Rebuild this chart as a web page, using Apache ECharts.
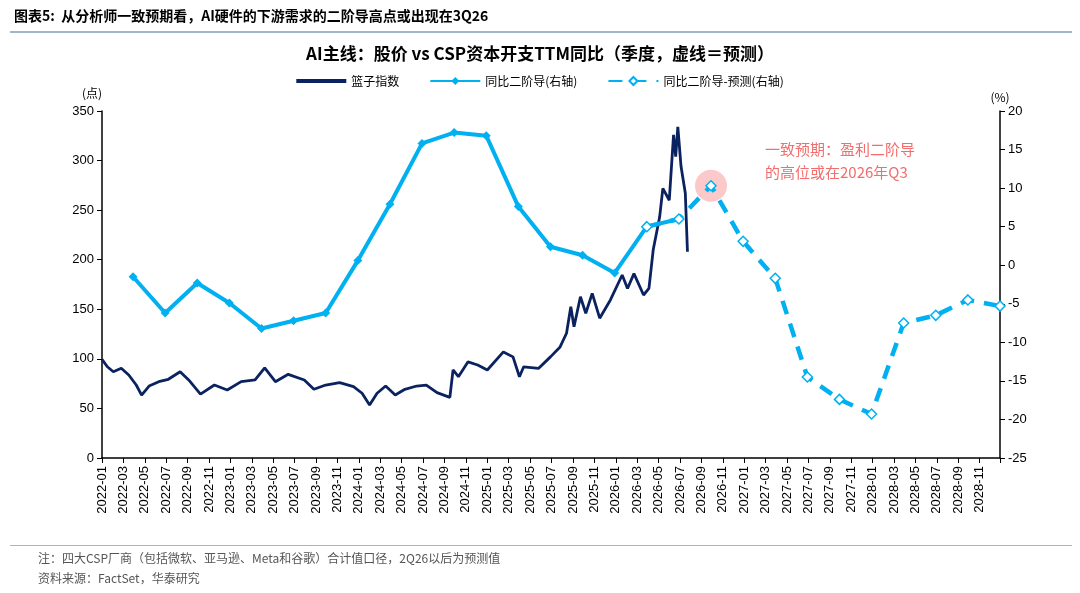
<!DOCTYPE html>
<html>
<head>
<meta charset="utf-8">
<script src="https://cdn.jsdelivr.net/npm/echarts@6/dist/echarts.min.js"></script>
<style>
  html, body { margin: 0; padding: 0; background: #fff; }
  #main { width: 1080px; height: 593px; }
</style>
</head>
<body>
<div id="main"></div>
<script>
// month index 0 = 2022-01
var months = [];
for (var y = 2022; y <= 2028; y++) {
    for (var m = 1; m <= 12; m++) {
        months.push(y + '-' + (m < 10 ? '0' + m : m));
    }
}

// 篮子指数: [month index, value]
var basket = [
    [0, 99.5], [0.5, 92], [1.06, 87], [1.8, 90.5], [2.5, 83.7], [3.2, 73.6], [3.7, 63.5], [4.4, 72.6],
    [5.3, 77], [6.2, 79.4], [7.3, 87], [8.1, 78.7], [9.2, 64.5], [10.5, 73.6], [11.7, 68.6],
    [13.0, 77], [14.3, 78.7], [15.2, 91], [16.2, 77], [17.4, 84.4], [18.9, 78.7], [19.8, 69.3],
    [20.9, 73.6], [22.2, 76], [23.5, 72], [24.3, 65.3], [25.0, 53.5], [25.7, 65.3], [26.5, 72.6],
    [27.4, 63.5], [28.3, 69.3], [29.4, 72.6], [30.3, 73.6], [31.3, 65.9], [32.5, 61.2], [32.8, 88.8],
    [33.3, 82], [34.2, 97], [35.1, 93.8], [36.0, 88.8], [37.5, 107], [38.4, 102], [39.0, 82],
    [39.4, 92], [40.8, 90.5], [41.9, 102], [42.8, 112], [43.4, 125.8], [43.8, 152.6], [44.1, 132.4],
    [44.7, 162.7], [45.2, 146], [45.8, 166], [46.5, 141], [47.5, 159.4], [48.6, 184.6], [49.1, 171],
    [49.7, 186], [50.6, 164.4], [51.1, 171], [51.5, 210], [52.1, 243], [52.4, 272], [53.0, 260],
    [53.4, 326], [53.6, 304], [53.8, 334], [54.1, 294], [54.5, 267], [54.6, 237], [54.7, 208]
];

// 同比二阶导 (右轴), quarterly
var actual = [
    [2.9, -1.5], [5.9, -6.2], [8.9, -2.3], [11.9, -4.9], [14.9, -8.2], [17.9, -7.2],
    [20.9, -6.2], [23.9, 0.6], [26.9, 7.9], [29.9, 15.8], [32.9, 17.2], [35.9, 16.8],
    [38.9, 7.6], [41.9, 2.4], [44.9, 1.3], [47.9, -1.0], [50.9, 5.0], [53.9, 6.0]
];

// 同比二阶导-预测 (右轴)
var forecast = [
    [50.9, 5.0], [53.9, 6.0], [56.9, 10.3], [59.9, 3.1], [62.9, -1.7], [65.9, -14.5],
    [68.9, -17.4], [71.9, -19.3], [74.9, -7.5], [77.9, -6.5], [80.9, -4.5], [83.9, -5.3]
];

// highlighted point (2026年Q3)
var highlight = [[56.9, 10.3]];

var axisFont = { fontFamily: 'Arial, Liberation Sans', fontSize: 13, color: '#000' };
var cjk = 'Noto Sans CJK SC';

var chart = echarts.init(document.getElementById('main'));
chart.setOption({
    animation: false,
    title: {
        text: 'AI主线：股价 vs CSP资本开支TTM同比（季度，虚线＝预测）',
        left: 'center', top: 40,
        textStyle: { fontFamily: cjk, fontSize: 17, fontWeight: 'bold', color: '#000' }
    },
    legend: {
        top: 70, left: 'center', itemWidth: 50, itemHeight: 10, itemGap: 30,
        textStyle: { fontFamily: cjk, fontSize: 12, color: '#000' },
        data: [
            { name: '篮子指数', icon: 'path://M0,0 L50,0 L50,4 L0,4 Z' },
            '同比二阶导(右轴)', '同比二阶导-预测(右轴)'
        ]
    },
    grid: { left: 102, right: 80, top: 111, bottom: 135 },
    xAxis: {
        type: 'value', min: 0, max: 83.9, interval: 2,
        axisLine: { lineStyle: { color: '#000', width: 1.5 } },
        axisTick: { show: true, lineStyle: { color: '#000' } },
        splitLine: { show: false },
        axisLabel: Object.assign({ rotate: 90, formatter: function (v) { return months[Math.round(v)] || ''; } }, axisFont)
    },
    yAxis: [{
        type: 'value', min: 0, max: 350, interval: 50,
        name: '(点)', nameGap: 12, nameTextStyle: { fontFamily: cjk, fontSize: 12, color: '#000', align: 'right' },
        axisLine: { show: true, lineStyle: { color: '#000', width: 1.5 } },
        axisTick: { show: true, lineStyle: { color: '#000' } },
        splitLine: { show: false },
        axisLabel: axisFont
    }, {
        type: 'value', min: -25, max: 20, interval: 5,
        name: '(%)', nameGap: 8, nameTextStyle: { fontFamily: cjk, fontSize: 12, color: '#000' },
        axisLine: { show: true, lineStyle: { color: '#000', width: 1.5 } },
        axisTick: { show: true, lineStyle: { color: '#000' } },
        splitLine: { show: false },
        axisLabel: axisFont
    }],
    series: [{
        name: 'highlight', type: 'scatter', yAxisIndex: 1, data: highlight, z: 1,
        symbol: 'circle', symbolSize: 32, silent: true,
        itemStyle: { color: 'rgba(245,120,120,0.5)' }
    }, {
        name: '篮子指数', type: 'line', data: basket, showSymbol: false, symbol: 'none', z: 3,
        lineStyle: { color: '#0b2260', width: 2.8 }, itemStyle: { color: '#0b2260' }
    }, {
        name: '同比二阶导(右轴)', type: 'line', yAxisIndex: 1, data: actual, z: 2,
        symbol: 'diamond', symbolSize: 9,
        lineStyle: { color: '#00b0f0', width: 4 }, itemStyle: { color: '#00b0f0' }
    }, {
        name: '同比二阶导-预测(右轴)', type: 'line', yAxisIndex: 1, data: forecast, z: 4,
        symbol: 'diamond', symbolSize: 10,
        lineStyle: { color: '#00b0f0', width: 4.5, type: [14, 10] },
        itemStyle: { color: '#fff', borderColor: '#00b0f0', borderWidth: 1.5 }
    }],
    graphic: [
        { type: 'text', left: 14, top: 9, style: { text: '图表5:  从分析师一致预期看，AI硬件的下游需求的二阶导高点或出现在3Q26', font: 'bold 14px "Noto Sans CJK SC"', fill: '#000' } },
        { type: 'rect', shape: { x: 10, y: 31, width: 1062, height: 2 }, style: { fill: '#9fb6cd' } },
        { type: 'text', left: 765, top: 138, style: { text: '一致预期：盈利二阶导\n的高位或在2026年Q3', font: '15px "Noto Sans CJK SC"', fill: '#f26d6d', lineHeight: 23 } },
        { type: 'rect', shape: { x: 10, y: 545, width: 1062, height: 1 }, style: { fill: '#9fb6cd' } },
        { type: 'text', left: 38, top: 552, style: { text: '注：四大CSP厂商（包括微软、亚马逊、Meta和谷歌）合计值口径，2Q26以后为预测值', font: '12px "Noto Sans CJK SC"', fill: '#555' } },
        { type: 'text', left: 38, top: 572, style: { text: '资料来源：FactSet，华泰研究', font: '12px "Noto Sans CJK SC"', fill: '#555' } }
    ]
});
</script>
</body>
</html>
